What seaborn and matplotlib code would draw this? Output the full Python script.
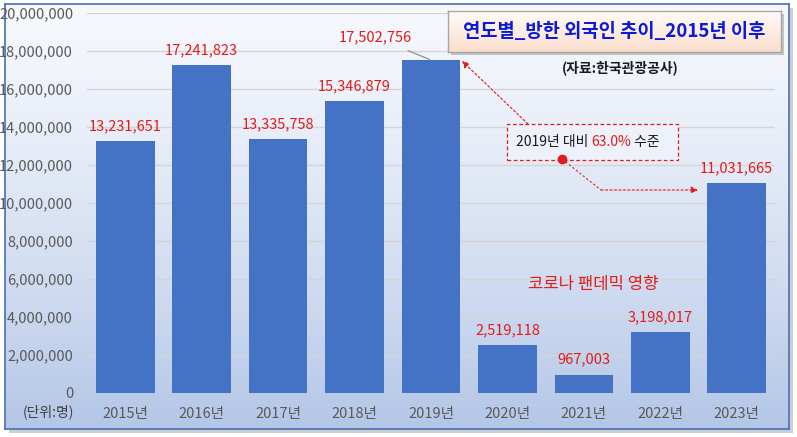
import numpy as np
import pandas as pd
import seaborn as sns
import matplotlib.pyplot as plt
from matplotlib.patches import Rectangle
from matplotlib.ticker import FuncFormatter

# 방한 외국인 수 (자료: 한국관광공사)
years = ["2015년", "2016년", "2017년", "2018년", "2019년",
         "2020년", "2021년", "2022년", "2023년"]
visitors = [13231651, 17241823, 13335758, 15346879, 17502756,
            2519118, 967003, 3198017, 11031665]
yticks = list(range(0, 20000001, 2000000))

sns.set_theme(style="white")
plt.rcParams['font.family'] = ['Noto Sans CJK KR', 'DejaVu Sans']

W, H = 797, 437
fig = plt.figure(figsize=(W / 100, H / 100), dpi=100)
fig.patch.set_facecolor("white")

def fx(px):
    return px / W

def fy(py):
    return 1 - py / H

# 바깥 프레임 그림자
fig.patches.append(Rectangle((fx(9), fy(433)), fx(784), (429 - 4) / H,
                             transform=fig.transFigure, facecolor="#cfcfcf",
                             edgecolor="none", zorder=-2))
# 그라데이션 배경
bg = fig.add_axes([fx(5), fy(429), fx(784), (429 - 4) / H], zorder=-1)
grad = np.linspace(0, 1, 256).reshape(-1, 1)
top_c = np.array([0.965, 0.973, 0.992])
bot_c = np.array([0.706, 0.780, 0.906])
img = top_c + (bot_c - top_c) * grad[..., None] ** 1.3
bg.imshow(img, aspect="auto", extent=[0, 1, 0, 1])
bg.set_xticks([])
bg.set_yticks([])
for s in bg.spines.values():
    s.set_color("#4a6fb5")
    s.set_linewidth(1.2)

# 메인 차트
ax = fig.add_axes([fx(87), fy(393), fx(775 - 87), (393 - 12.5) / H], zorder=2)
ax.patch.set_alpha(0)
df = pd.DataFrame({"year": years, "visitors": visitors})
sns.barplot(data=df, x="year", y="visitors", color="#4472C4", saturation=1,
            width=0.766, ax=ax, zorder=3, edgecolor="none", linewidth=0)
ax.set_ylim(0, 20000000)
ax.set_yticks(yticks)
ax.yaxis.set_major_formatter(FuncFormatter(lambda v, p: f"{int(v):,}"))
ax.grid(axis="y", color="#d4d4d4", linewidth=1, zorder=0)
ax.set_axisbelow(True)
for s in ax.spines.values():
    s.set_visible(False)
ax.set_xlabel("")
ax.set_ylabel("")
ax.tick_params(axis="y", colors="#595959", labelsize=10.5, length=0, pad=10)
ax.tick_params(axis="x", colors="#595959", labelsize=10.5, length=0, pad=10)

# 데이터 레이블
for i, v in enumerate(visitors):
    if i == 4:
        ax.annotate(f"{v:,}", xy=(i - 0.02, v + 30000), xytext=(i - 0.73, v + 1200000),
                    ha="center", va="center", color="#e31b1b", fontsize=10.5,
                    arrowprops=dict(arrowstyle="-", color="#909090", lw=0.9,
                                    shrinkA=6, shrinkB=0))
    else:
        ax.text(i, v + 780000, f"{v:,}", ha="center", va="center",
                color="#e31b1b", fontsize=10.5)

# 단위
fig.text(fx(48), fy(412), "(단위:명)", ha="center", va="center",
         color="#404040", fontsize=10)

# 제목 상자
fig.patches.append(Rectangle((fx(451), fy(55)), fx(333), (55 - 14) / H,
                             transform=fig.transFigure, facecolor="#c4c4c4",
                             edgecolor="none", zorder=3))
tax = fig.add_axes([fx(448), fy(52), fx(333), (52 - 11) / H], zorder=4)
tgrad = np.linspace(0, 1, 64).reshape(-1, 1)
t_top = np.array([1.0, 0.985, 0.975])
t_bot = np.array([0.985, 0.870, 0.800])
tax.imshow(t_top + (t_bot - t_top) * tgrad[..., None], aspect="auto",
           extent=[0, 1, 0, 1])
tax.set_xticks([])
tax.set_yticks([])
for s in tax.spines.values():
    s.set_color("#a6a6a6")
    s.set_linewidth(1)
tax.text(0.5, 0.5, "연도별_방한 외국인 추이_2015년 이후", transform=tax.transAxes,
         ha="center", va="center", color="#0a1ad6", fontsize=13.5,
         fontweight="bold")

fig.text(fx(620), fy(68), "(자료:한국관광공사)", ha="center", va="center",
         color="#1a1a1a", fontsize=10, fontweight="bold")

# 2019년 대비 상자
box_l, box_r, box_t, box_b = 507, 678, 124, 160
fig.patches.append(Rectangle((fx(box_l), fy(box_b)), fx(box_r - box_l),
                             (box_b - box_t) / H, transform=fig.transFigure,
                             facecolor="#edf1f9", edgecolor="#e31b1b", lw=0.9,
                             ls=(0, (3, 2)), zorder=5))
t1 = fig.text(fx(516), fy(142), "2019년 대비 ", ha="left", va="center",
              color="#1a1a1a", fontsize=10, zorder=6)
fig.canvas.draw()
r = fig.canvas.get_renderer()
bb = t1.get_window_extent(r)
t2 = fig.text(bb.x1 / W, fy(142), "63.0%", ha="left", va="center",
              color="#e31b1b", fontsize=10, zorder=6)
bb2 = t2.get_window_extent(r)
fig.text(bb2.x1 / W, fy(142), " 수준", ha="left", va="center",
         color="#1a1a1a", fontsize=10, zorder=6)

# 화살표
fig.add_artist(plt.Line2D([fx(562)], [fy(159)], marker="o", color="#e31b1b",
                          markersize=6, transform=fig.transFigure, zorder=7))
ax.annotate("", xy=(fx(462), fy(61)), xycoords="figure fraction",
            xytext=(fx(528), fy(124)), textcoords="figure fraction",
            arrowprops=dict(arrowstyle="-|>", color="#e31b1b", lw=0.8,
                            ls=(0, (2, 2)), shrinkA=0, shrinkB=0,
                            mutation_scale=10), zorder=6)
fig.add_artist(plt.Line2D([fx(562), fx(601)], [fy(159), fy(190)],
                          color="#e31b1b", lw=0.8, ls=(0, (2, 2)),
                          transform=fig.transFigure, zorder=6))
ax.annotate("", xy=(fx(698), fy(190)), xycoords="figure fraction",
            xytext=(fx(601), fy(190)), textcoords="figure fraction",
            arrowprops=dict(arrowstyle="-|>", color="#e31b1b", lw=0.8,
                            ls=(0, (2, 2)), shrinkA=0, shrinkB=0,
                            mutation_scale=10), zorder=6)

fig.text(fx(593), fy(284), "코로나 팬데믹 영향", ha="center", va="center",
         color="#e31b1b", fontsize=12)

fig.savefig("out.png", dpi=100)
